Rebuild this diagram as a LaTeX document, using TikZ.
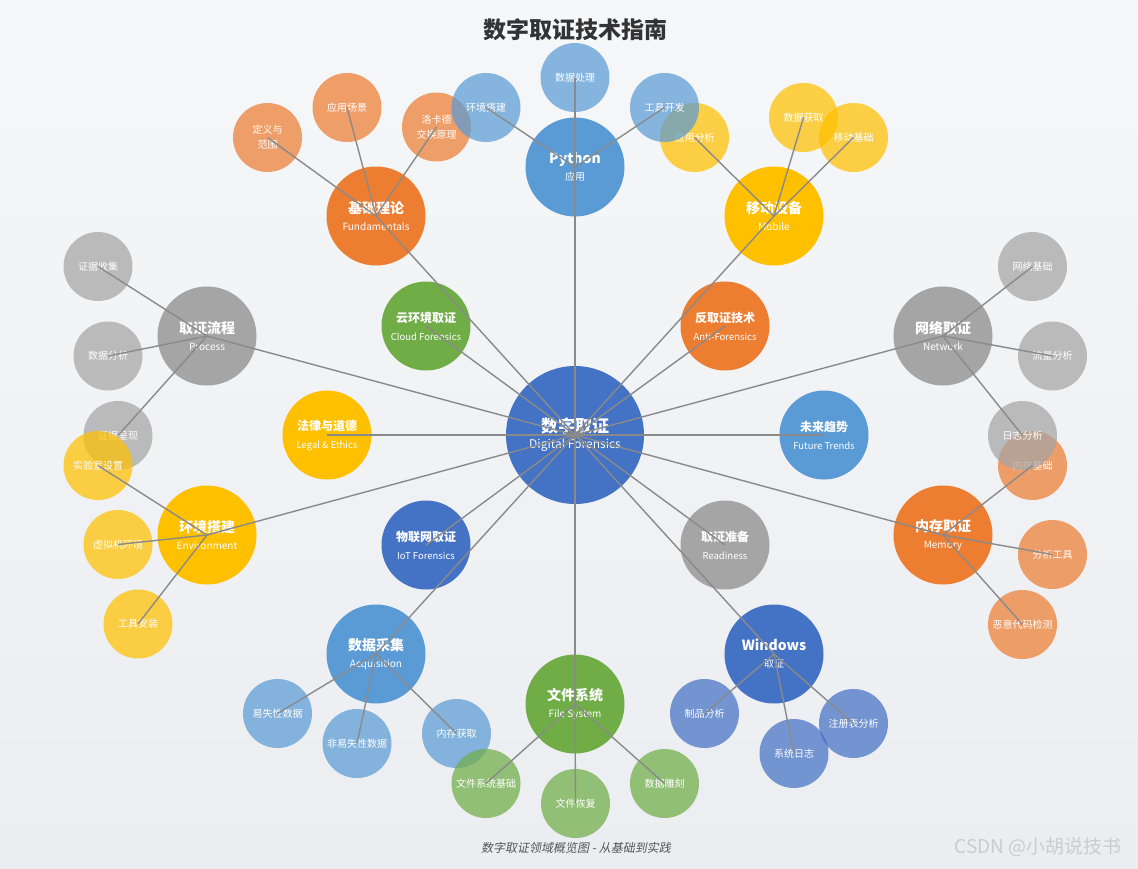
\documentclass[tikz,border=0pt]{standalone}
\usepackage{fontspec}
\setmainfont{Noto Sans CJK SC}
\newfontfamily\capfont{Noto Sans CJK SC}[FakeSlant=0.2]
\definecolor{cBlue}{HTML}{4472C4}
\definecolor{cLBlue}{HTML}{5B9BD5}
\definecolor{cOrange}{HTML}{ED7D31}
\definecolor{cYellow}{HTML}{FFC000}
\definecolor{cGray}{HTML}{A5A5A5}
\definecolor{cGreen}{HTML}{70AD47}
\definecolor{edgegray}{HTML}{8A8A8A}
\definecolor{titlegray}{HTML}{333333}
\definecolor{capgray}{HTML}{555555}
\definecolor{wmgray}{HTML}{CCCCCC}
\definecolor{bgtop}{HTML}{F6F7F9}
\definecolor{bgbot}{HTML}{EBEDF0}
\newcommand\hubtxt[2]{\fontsize{17}{18}\selectfont\bfseries #1\\[4pt]\fontsize{12}{18}\selectfont\mdseries #2}
\newcommand\cattxt[2]{\fontsize{14}{19}\selectfont\bfseries #1\\[5pt]\fontsize{10}{19}\selectfont\mdseries #2}
\newcommand\inrtxt[2]{\fontsize{12}{18}\selectfont\bfseries #1\\[6pt]\fontsize{9.5}{18}\selectfont\mdseries #2}
\begin{document}
\begin{tikzpicture}[x=1pt,y=-1pt,
  base/.style={circle, inner sep=0pt, text=white, align=center},
  hub/.style={base, minimum size=138pt, fill=cBlue},
  cat/.style={base, minimum size=99pt, fill=#1},
  inr/.style={base, minimum size=89pt, fill=#1},
  sub/.style={base, minimum size=69pt, fill=#1, fill opacity=0.72, text opacity=1,
    font=\fontsize{10}{15}\selectfont},
  link/.style={draw=edgegray, line width=1.4pt}
]
\shade[top color=bgtop, bottom color=bgbot] (0,0) rectangle (1138,868);
\useasboundingbox (0,0) rectangle (1138,868);

% title
\node[text=titlegray, font=\fontsize{23}{23}\selectfont\bfseries] (title) at (575,30) {数字取证技术指南};

% hub
\node[hub] (hub) at (575,435) {\hubtxt{数字取证}{Digital Forensics}};

% categories
\node[cat=cLBlue] (python) at (575,167) {\cattxt{Python}{应用}};
\node[cat=cOrange] (fund) at (376,216) {\cattxt{基础理论}{Fundamentals}};
\node[cat=cYellow] (mobile) at (774,216) {\cattxt{移动设备}{Mobile}};
\node[cat=cGray] (process) at (207,336) {\cattxt{取证流程}{Process}};
\node[cat=cGray] (network) at (943,336) {\cattxt{网络取证}{Network}};
\node[cat=cYellow] (env) at (207,535) {\cattxt{环境搭建}{Environment}};
\node[cat=cOrange] (memory) at (943,535) {\cattxt{内存取证}{Memory}};
\node[cat=cLBlue] (acq) at (376,654) {\cattxt{数据采集}{Acquisition}};
\node[cat=cGreen] (fs) at (575,704) {\cattxt{文件系统}{File System}};
\node[cat=cBlue] (win) at (774,654) {\cattxt{Windows}{取证}};

% inner ring
\node[inr=cGreen] (cloud) at (426,326) {\inrtxt{云环境取证}{Cloud Forensics}};
\node[inr=cOrange] (anti) at (725,326) {\inrtxt{反取证技术}{Anti-Forensics}};
\node[inr=cBlue] (iot) at (426,545) {\inrtxt{物联网取证}{IoT Forensics}};
\node[inr=cGray] (ready) at (725,545) {\inrtxt{取证准备}{Readiness}};
\node[inr=cYellow] (legal) at (327,435) {\inrtxt{法律与道德}{Legal \& Ethics}};
\node[inr=cLBlue] (future) at (824,435) {\inrtxt{未来趋势}{Future Trends}};

% sub nodes
\node[sub=cYellow] (appana) at (694.5,137.5) {应用分析};
\node[sub=cYellow] (dataget) at (803.5,117.5) {数据获取};
\node[sub=cYellow] (mobbase) at (853.5,137.5) {移动基础};

\node[sub=cOrange] (define) at (267.5,137.5) {定义与\\范围};
\node[sub=cOrange] (scene) at (347,107.5) {应用场景};
\node[sub=cOrange] (locard) at (436.5,127) {洛卡德\\交换原理};

\node[sub=cLBlue] (pyenv) at (486,107.5) {环境搭建};
\node[sub=cLBlue] (pyproc) at (575,77.5) {数据处理};
\node[sub=cLBlue] (pytool) at (664.5,107.5) {工具开发};

\node[sub=cGray] (collect) at (98,266.5) {证据收集};
\node[sub=cGray] (analyze) at (108,356) {数据分析};
\node[sub=cGray] (present) at (118,435.5) {证据呈现};

\node[sub=cYellow] (lab) at (98,465.5) {实验室设置};
\node[sub=cYellow] (vm) at (118,544.5) {虚拟机环境};
\node[sub=cYellow] (toolinst) at (138,624) {工具安装};

\node[sub=cOrange] (membase) at (1032.5,465.5) {内存基础};
\node[sub=cOrange] (anatool) at (1052.5,554.5) {分析工具};
\node[sub=cOrange] (malware) at (1022.5,624.5) {恶意代码检测};

\node[sub=cGray] (netbase) at (1032.5,266.5) {网络基础};
\node[sub=cGray] (traffic) at (1052.5,356) {流量分析};
\node[sub=cGray] (logana) at (1022.5,435.5) {日志分析};

\node[sub=cLBlue] (volatile) at (277.5,713.5) {易失性数据};
\node[sub=cLBlue] (nonvol) at (357,743.5) {非易失性数据};
\node[sub=cLBlue] (memacq) at (456.5,733.5) {内存获取};

\node[sub=cGreen] (fsbase) at (486,783.5) {文件系统基础};
\node[sub=cGreen] (recover) at (575.5,803.5) {文件恢复};
\node[sub=cGreen] (carve) at (664.5,783.5) {数据雕刻};

\node[sub=cBlue] (artifact) at (704.5,713.5) {制品分析};
\node[sub=cBlue] (syslog) at (794,753.5) {系统日志};
\node[sub=cBlue] (registry) at (853.5,723.5) {注册表分析};

% links from hub
\foreach \n in {python,fund,mobile,process,network,env,memory,acq,fs,win,cloud,anti,iot,ready,legal,future}
  \draw[link] (hub.center) -- (\n.center);

% links to sub nodes
\foreach \p/\c in {fund/define,fund/scene,fund/locard,
  python/pyenv,python/pyproc,python/pytool,
  mobile/appana,mobile/dataget,mobile/mobbase,
  process/collect,process/analyze,process/present,
  env/lab,env/vm,env/toolinst,
  network/netbase,network/traffic,network/logana,
  memory/membase,memory/anatool,memory/malware,
  acq/volatile,acq/nonvol,acq/memacq,
  fs/fsbase,fs/recover,fs/carve,
  win/artifact,win/syslog,win/registry}
  \draw[link] (\p.center) -- (\c.center);

% caption and watermark
\node[text=capgray, font=\capfont\fontsize{12}{12}\selectfont] (caption) at (576,848) {数字取证领域概览图 - 从基础到实践};
\node[text=wmgray, font=\fontsize{19}{19}\selectfont] (wm) at (1038,847) {CSDN @小胡说技书};
\end{tikzpicture}
\end{document}
